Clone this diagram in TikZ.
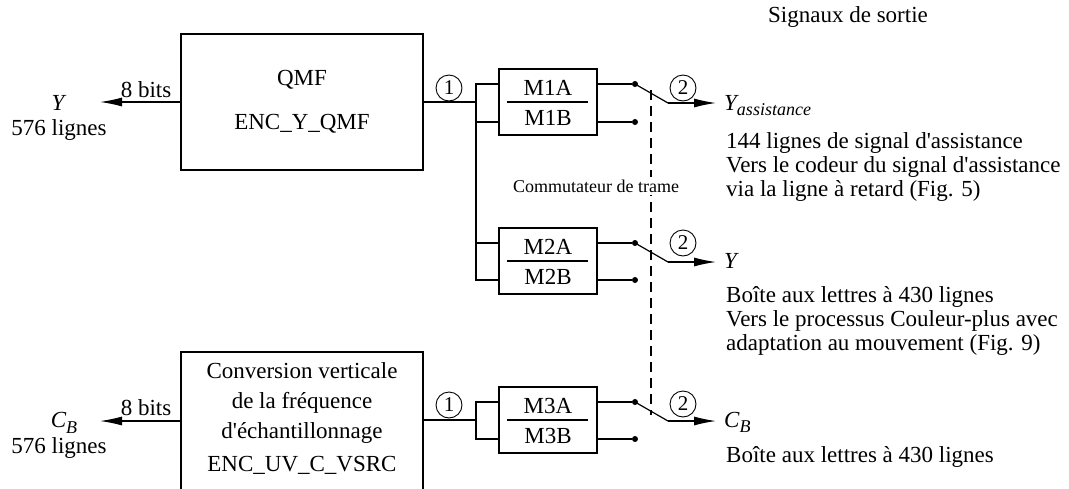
\documentclass[tikz,border=0pt]{standalone}
\usepackage{fontspec}
\setmainfont{Liberation Serif}
\usetikzlibrary{arrows.meta}
\newcommand\mysub[1]{\raisebox{-5.5pt}{\fontsize{18}{18}\selectfont #1}}
\begin{document}
\begin{tikzpicture}[x=1pt,y=-1pt,
  every node/.style={inner sep=0pt, font=\fontsize{23}{25}\selectfont},
  blk/.style={draw, line width=1.3pt, minimum width=242pt, minimum height=136pt, align=center},
  mbox/.style={draw, line width=1.3pt, minimum width=98pt, minimum height=66pt},
  wire/.style={line width=1.2pt},
  arr/.style={line width=1.2pt, -{Latex[length=22pt,width=9pt]}},
  cnum/.style={circle, draw, line width=0.9pt, minimum size=26pt, font=\fontsize{21}{21}\selectfont},
  dotn/.style={circle, fill, minimum size=6pt},
  small/.style={font=\fontsize{18}{20}\selectfont},
  swdash/.style={line width=2pt, dash pattern=on 10pt off 6pt},
  rtext/.style={anchor=west, align=left, font=\fontsize{23}{24}\selectfont}
]
\clip (0,0) rectangle (1069,488);
\fill[white] (0,0) rectangle (1069,488);

% title
\node (title) at (848,17) {Signaux de sortie};

% main blocks
\node[blk] (qmf) at (302,102) {QMF\\[19pt]ENC\_Y\_QMF};
\node[blk, minimum height=150pt] (vsrc) at (302,427) {};
\node[align=center, font=\fontsize{23}{30}\selectfont] (vsrctxt) at (302,418)
  {Conversion verticale\\de la fréquence\\d\textquotesingle échantillonnage\\[3pt]ENC\_UV\_C\_VSRC};

% inputs
\coordinate (yin) at (100,102);
\coordinate (cbin) at (100,421);
\draw[arr] (qmf.west) -- (yin);
\draw[arr] (vsrc.west |- cbin) -- (cbin);
\node (bits1) at (146,90) {8 bits};
\node (bits2) at (146,408) {8 bits};
\node (ylab) at (58,103) {\itshape Y};
\node (ylines) at (59,130) {576 lignes};
\node (cblab) at (64,423) {\itshape C\mysub{B}};
\node (cblines) at (59,448) {576 lignes};

% M boxes
\node[mbox] (m1) at (548,102) {};
\node[mbox] (m2) at (548,261) {};
\node[mbox] (m3) at (548,420) {};
\foreach \m in {m1,m2,m3}{
  \draw[wire] ([xshift=9pt]\m.west) -- ([xshift=-10pt]\m.east);
}
\node (m1a) at (548,88) {M1A};
\node (m1b) at (548,118) {M1B};
\node (m2a) at (548,247) {M2A};
\node (m2b) at (548,277) {M2B};
\node (m3a) at (548,406) {M3A};
\node (m3b) at (548,436) {M3B};

% branch wiring
\coordinate (br1) at (476,102);
\coordinate (b1t) at (476,84);
\coordinate (b1b) at (476,122);
\coordinate (b2t) at (476,243);
\coordinate (b2b) at (476,280);
\coordinate (br3) at (476,420);
\coordinate (b3t) at (476,402);
\coordinate (b3b) at (476,439);
\draw[wire] (qmf.east) -- (br1);
\draw[wire] (m1.west |- b1t) -- (b1t) -- (b2b) -- (m2.west |- b2b);
\draw[wire] (b1b) -- (m1.west |- b1b);
\draw[wire] (b2t) -- (m2.west |- b2t);
\draw[wire] (vsrc.east |- br3) -- (br3);
\draw[wire] (m3.west |- b3t) -- (b3t) -- (b3b) -- (m3.west |- b3b);
\node[cnum] (c1a) at (449,88) {1};
\node[cnum] (c1b) at (449,405) {1};

% outputs and switches
\node[dotn] (d1a) at (635,84) {};
\node[dotn] (d1b) at (635,122) {};
\node[dotn] (d2a) at (635,243) {};
\node[dotn] (d2b) at (635,280) {};
\node[dotn] (d3a) at (635,402) {};
\node[dotn] (d3b) at (635,439) {};
\draw[wire] (m1.east |- d1a) -- (d1a);
\draw[wire] (m1.east |- d1b) -- (d1b);
\draw[wire] (m2.east |- d2a) -- (d2a);
\draw[wire] (m2.east |- d2b) -- (d2b);
\draw[wire] (m3.east |- d3a) -- (d3a);
\draw[wire] (m3.east |- d3b) -- (d3b);

\coordinate (p1) at (668,103);
\coordinate (p2) at (668,262);
\coordinate (p3) at (668,421);
\coordinate (o1) at (716,103);
\coordinate (o2) at (716,262);
\coordinate (o3) at (716,421);
\draw[wire] (d1a.center) -- (p1);
\draw[wire] (d2a.center) -- (p2);
\draw[wire] (d3a.center) -- (p3);
\draw[arr] (p1) -- (o1);
\draw[arr] (p2) -- (o2);
\draw[arr] (p3) -- (o3);
\node[cnum] (c2a) at (683,88) {2};
\node[cnum] (c2b) at (683,243) {2};
\node[cnum] (c2c) at (683,404) {2};

% frame switch dashed line
\coordinate (swtop) at (651,90);
\coordinate (swbot) at (651,415);
\draw[swdash] (swtop) -- (swbot);
\node[small, fill=white, inner sep=3pt] (comm) at (596,186) {Commutateur de trame};

% output labels
\node[anchor=base west] (yass) at (724,110) {\itshape Y\mysub{assistance}};
\node[anchor=base west] (yout) at (724,268) {\itshape Y};
\node[anchor=base west] (cbout) at (724,427) {\itshape C\mysub{B}};
\node[rtext] (txt1) at (726,167) {144 lignes de signal d\textquotesingle assistance\\Vers le codeur du signal d\textquotesingle assistance\\via la ligne à retard (Fig. 5)};
\node[rtext] (txt2) at (726,321) {Boîte aux lettres à 430 lignes\\Vers le processus Couleur-plus avec\\adaptation au mouvement (Fig. 9)};
\node[rtext] (txt3) at (726,457) {Boîte aux lettres à 430 lignes};
\end{tikzpicture}
\end{document}
